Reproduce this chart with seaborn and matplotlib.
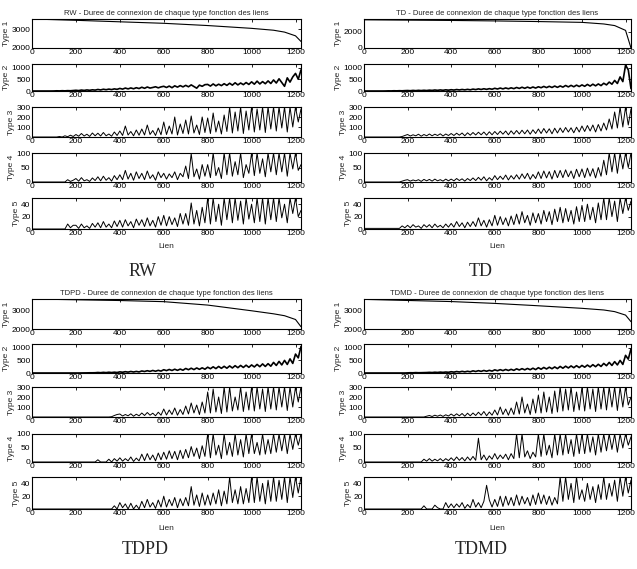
import numpy as np
import pandas as pd
import matplotlib
matplotlib.use("Agg")
import matplotlib.pyplot as plt
import seaborn as sns

# ---------------- data ----------------
methods = ["RW", "TD", "TDPD", "TDMD"]
type_names = ["Type 1", "Type 2", "Type 3", "Type 4", "Type 5"]
lien_step = 12.5  # spacing (in link index) of the sampled values

type1_x = [0, 200, 400, 600, 800, 1000, 1100, 1150, 1200, 1225]
rw_t1 = [3550, 3480, 3400, 3320, 3200, 3050, 2950, 2850, 2650, 2350]
td_t1 = [3520, 3480, 3440, 3380, 3300, 3200, 3000, 2800, 2200, 0]
tdpd_t1 = [3580, 3540, 3500, 3440, 3260, 2960, 2800, 2700, 2500, 2120]
tdmd_t1 = [3620, 3560, 3500, 3400, 3270, 3130, 3040, 2950, 2760, 2400]

rw_t2 = [0, 0, 0, 0, 0, 0, 0, 0, 2, 8, 4, 12, 6, 15, 10, 20,
         30, 18, 40, 25, 45, 30, 50, 38, 65, 45, 75, 55, 80, 60, 90, 70,
         110, 80, 125, 90, 130, 95, 140, 105, 160, 115, 170, 125, 150, 180, 135, 175,
         200, 150, 210, 140, 220, 165, 230, 175, 240, 180, 260, 190, 120, 250, 200, 270,
         280, 210, 300, 220, 290, 230, 310, 240, 330, 250, 350, 260, 340, 270, 360, 280,
         390, 290, 420, 300, 400, 310, 430, 320, 470, 340, 520, 360, 200, 560, 380, 600,
         750, 500, 900]
rw_t3 = [0, 0, 0, 0, 0, 0, 0, 0, 0, 0, 5, 0, 12, 3, 18, 5,
         25, 8, 35, 10, 28, 6, 40, 12, 38, 10, 45, 12, 30, 8, 50, 15,
         60, 15, 110, 20, 55, 12, 70, 18, 80, 20, 120, 25, 65, 15, 90, 22,
         150, 25, 110, 30, 200, 20, 130, 35, 170, 30, 210, 40, 120, 25, 200, 45,
         190, 35, 240, 50, 160, 30, 220, 55, 300, 40, 250, 60, 300, 35, 260, 70,
         300, 50, 280, 70, 300, 45, 300, 80, 300, 60, 300, 90, 300, 50, 300, 100,
         300, 150, 280]
rw_t4 = [0, 0, 0, 0, 0, 0, 0, 0, 0, 0, 0, 0, 0, 8, 2, 6,
         12, 3, 15, 4, 8, 2, 14, 5, 18, 4, 20, 6, 15, 3, 22, 8,
         25, 8, 40, 10, 30, 6, 35, 12, 30, 8, 38, 12, 25, 6, 35, 15,
         30, 10, 28, 15, 35, 8, 30, 18, 55, 12, 98, 18, 45, 10, 60, 20,
         60, 15, 100, 22, 50, 12, 100, 25, 100, 20, 70, 25, 100, 15, 60, 30,
         100, 22, 100, 30, 80, 18, 100, 35, 100, 25, 100, 35, 100, 20, 100, 45,
         100, 40, 60]
rw_t5 = [0, 0, 0, 0, 0, 0, 0, 0, 0, 0, 0, 0, 0, 8, 2, 6,
         6, 1, 8, 2, 5, 1, 9, 3, 10, 2, 12, 3, 8, 2, 13, 4,
         14, 3, 15, 5, 12, 2, 16, 6, 15, 4, 18, 5, 14, 3, 20, 6,
         22, 5, 20, 7, 18, 4, 25, 8, 25, 6, 42, 8, 30, 5, 35, 10,
         50, 8, 50, 12, 40, 6, 50, 15, 50, 10, 50, 14, 45, 8, 50, 16,
         40, 10, 50, 12, 50, 8, 50, 15, 50, 12, 50, 18, 40, 10, 50, 25,
         50, 20, 30]

td_t2 = [0, 0, 0, 0, 0, 0, 0, 0, 2, 6, 4, 10, 6, 12, 8, 15,
         20, 12, 25, 15, 28, 18, 30, 20, 35, 25, 42, 28, 45, 30, 50, 35,
         55, 40, 62, 45, 65, 48, 70, 50, 80, 60, 90, 65, 95, 70, 100, 75,
         115, 85, 125, 90, 130, 95, 135, 100, 150, 110, 160, 115, 165, 120, 170, 125,
         180, 140, 195, 145, 200, 150, 210, 155, 215, 165, 235, 175, 240, 180, 250, 190,
         260, 200, 280, 210, 290, 220, 300, 230, 330, 260, 380, 290, 450, 320, 600, 400,
         1100, 900, 100]
td_t3 = [0, 0, 0, 0, 0, 0, 0, 0, 0, 0, 0, 0, 0, 0, 5, 15,
         25, 10, 22, 12, 28, 8, 25, 12, 30, 12, 28, 15, 32, 10, 30, 15,
         35, 15, 38, 18, 40, 12, 42, 18, 45, 20, 48, 22, 50, 18, 52, 22,
         55, 25, 58, 28, 60, 22, 62, 28, 65, 30, 68, 32, 70, 28, 72, 35,
         80, 35, 85, 40, 82, 32, 88, 40, 90, 45, 95, 50, 92, 42, 98, 50,
         110, 55, 115, 60, 120, 50, 125, 60, 140, 70, 180, 80, 250, 90, 300, 100,
         300, 120, 280]
td_t4 = [0, 0, 0, 0, 0, 0, 0, 0, 0, 0, 0, 0, 0, 0, 3, 6,
         8, 3, 7, 4, 8, 2, 9, 4, 9, 3, 10, 4, 8, 3, 10, 4,
         10, 4, 12, 5, 11, 3, 12, 5, 14, 5, 16, 6, 18, 4, 15, 6,
         22, 8, 20, 9, 24, 7, 22, 10, 25, 10, 28, 12, 30, 9, 26, 12,
         35, 12, 38, 14, 36, 10, 40, 15, 40, 15, 42, 18, 38, 12, 44, 18,
         45, 15, 48, 20, 46, 14, 50, 20, 75, 25, 100, 35, 100, 30, 100, 45,
         100, 50, 100]
td_t5 = [1, 1, 1, 1, 1, 1, 1, 1, 1, 1, 1, 1, 1, 1, 5, 2,
         6, 2, 7, 3, 5, 1, 7, 3, 7, 2, 8, 3, 6, 2, 8, 3,
         9, 3, 12, 4, 10, 2, 11, 4, 12, 4, 18, 5, 14, 3, 15, 5,
         22, 6, 20, 7, 18, 5, 21, 7, 24, 8, 28, 10, 22, 6, 26, 10,
         25, 8, 30, 12, 28, 7, 32, 12, 35, 10, 33, 12, 30, 8, 36, 12,
         38, 12, 40, 15, 35, 10, 42, 15, 50, 15, 50, 20, 45, 12, 50, 25,
         50, 30, 45]

tdpd_t2 = [0, 0, 0, 0, 0, 0, 0, 0, 0, 0, 0, 0, 0, 0, 0, 0,
           0, 0, 2, 4, 5, 8, 8, 10, 20, 12, 25, 15, 30, 18, 32, 20,
           45, 30, 52, 35, 60, 40, 62, 42, 80, 60, 90, 65, 100, 70, 105, 75,
           130, 95, 140, 100, 150, 105, 155, 110, 180, 130, 190, 135, 200, 145, 205, 150,
           230, 170, 245, 175, 260, 185, 265, 190, 280, 200, 290, 210, 300, 220, 310, 225,
           320, 240, 340, 250, 360, 260, 370, 270, 420, 300, 460, 320, 500, 340, 560, 380,
           750, 600, 1050]
tdpd_t3 = [0, 0, 0, 0, 0, 0, 0, 0, 0, 0, 0, 0, 0, 0, 0, 0,
           0, 0, 0, 0, 0, 0, 0, 0, 0, 0, 0, 0, 0, 3, 15, 25,
           30, 10, 25, 12, 32, 8, 28, 12, 40, 15, 45, 18, 38, 12, 48, 18,
           80, 20, 70, 25, 90, 18, 75, 25, 110, 30, 140, 40, 120, 25, 150, 40,
           250, 40, 280, 50, 200, 35, 300, 50, 300, 60, 200, 70, 300, 55, 250, 70,
           300, 60, 300, 80, 280, 55, 300, 80, 300, 70, 300, 100, 300, 65, 300, 100,
           300, 150, 300]
tdpd_t4 = [0, 0, 0, 0, 0, 0, 0, 0, 0, 0, 0, 0, 0, 0, 0, 0,
           0, 0, 0, 0, 0, 0, 0, 0, 8, 0, 0, 0, 10, 0, 12, 3,
           15, 3, 12, 4, 18, 2, 14, 4, 28, 5, 30, 8, 25, 4, 32, 8,
           35, 10, 40, 12, 38, 8, 42, 12, 45, 15, 55, 20, 50, 12, 58, 20,
           100, 15, 100, 25, 60, 12, 100, 25, 70, 20, 100, 25, 80, 18, 100, 30,
           100, 30, 70, 25, 100, 28, 80, 30, 100, 35, 100, 40, 100, 30, 100, 45,
           100, 60, 100]
tdpd_t5 = [0, 0, 0, 0, 0, 0, 0, 0, 0, 0, 0, 0, 0, 0, 0, 0,
           0, 0, 0, 0, 0, 0, 0, 0, 0, 0, 0, 0, 0, 0, 5, 0,
           10, 2, 8, 0, 9, 0, 6, 0, 12, 2, 15, 3, 10, 1, 14, 3,
           20, 3, 15, 5, 18, 2, 16, 5, 18, 5, 35, 6, 22, 4, 25, 6,
           22, 6, 25, 8, 30, 5, 28, 8, 50, 10, 30, 8, 35, 8, 32, 10,
           50, 10, 50, 12, 40, 8, 45, 12, 50, 12, 45, 15, 50, 10, 50, 18,
           50, 25, 50]

tdmd_t2 = [0, 0, 0, 0, 0, 0, 0, 0, 0, 0, 0, 0, 0, 0, 0, 0,
           5, 10, 8, 15, 10, 12, 15, 18, 25, 18, 30, 22, 35, 25, 38, 28,
           50, 35, 58, 40, 65, 45, 68, 48, 85, 60, 92, 65, 100, 70, 105, 75,
           125, 90, 132, 95, 140, 100, 145, 105, 165, 120, 172, 125, 180, 130, 190, 135,
           210, 150, 220, 160, 230, 170, 240, 175, 260, 190, 270, 200, 280, 210, 290, 215,
           300, 230, 315, 240, 330, 250, 345, 260, 380, 290, 420, 300, 450, 320, 500, 340,
           700, 550, 950]
tdmd_t3 = [0, 0, 0, 0, 0, 0, 0, 0, 0, 0, 0, 0, 0, 0, 0, 0,
           0, 0, 0, 0, 0, 0, 0, 8, 15, 5, 18, 8, 20, 6, 22, 10,
           30, 10, 32, 12, 35, 8, 38, 12, 40, 15, 48, 18, 55, 12, 50, 18,
           70, 20, 100, 25, 80, 18, 90, 25, 150, 30, 200, 40, 130, 25, 180, 40,
           220, 40, 250, 50, 200, 35, 260, 50, 300, 60, 280, 70, 300, 55, 250, 70,
           300, 60, 300, 80, 280, 55, 300, 80, 300, 70, 300, 100, 300, 65, 300, 100,
           300, 120, 200]
tdmd_t4 = [0, 0, 0, 0, 0, 0, 0, 0, 0, 0, 0, 0, 0, 0, 0, 0,
           0, 0, 0, 0, 0, 0, 10, 3, 12, 3, 10, 4, 12, 3, 12, 5,
           15, 5, 18, 6, 16, 4, 18, 6, 20, 6, 85, 8, 25, 6, 22, 10,
           30, 10, 25, 12, 28, 8, 30, 12, 100, 15, 100, 18, 40, 12, 35, 18,
           100, 20, 100, 25, 60, 15, 100, 25, 100, 25, 100, 30, 80, 20, 100, 30,
           100, 30, 100, 35, 90, 25, 100, 35, 100, 40, 100, 45, 100, 35, 100, 50,
           100, 60, 90]
tdmd_t5 = [0, 0, 0, 0, 0, 0, 0, 0, 0, 0, 0, 0, 0, 0, 0, 0,
           0, 0, 0, 0, 0, 0, 5, 0, 0, 0, 6, 2, 0, 0, 10, 2,
           8, 2, 8, 3, 10, 1, 7, 2, 15, 3, 10, 2, 12, 37, 14, 3,
           15, 4, 20, 4, 20, 6, 18, 5, 22, 6, 20, 8, 18, 5, 22, 7,
           25, 8, 22, 7, 20, 6, 18, 8, 50, 12, 50, 15, 40, 10, 50, 15,
           30, 12, 40, 15, 35, 10, 38, 15, 50, 15, 40, 20, 45, 12, 50, 20,
           50, 25, 45]

series = {
    "RW": [rw_t1, rw_t2, rw_t3, rw_t4, rw_t5],
    "TD": [td_t1, td_t2, td_t3, td_t4, td_t5],
    "TDPD": [tdpd_t1, tdpd_t2, tdpd_t3, tdpd_t4, tdpd_t5],
    "TDMD": [tdmd_t1, tdmd_t2, tdmd_t3, tdmd_t4, tdmd_t5],
}
type1_ylim = {"RW": (2000, 3550), "TD": (0, 3620), "TDPD": (2000, 3580), "TDMD": (2000, 3640)}
type1_ticks = {"RW": [2000, 3000], "TD": [0, 2000], "TDPD": [2000, 3000], "TDMD": [2000, 3000]}
other_ylim = [(0, 1150), (0, 300), (0, 100), (0, 50)]
other_ticks = [[0, 500, 1000], [0, 100, 200, 300], [0, 50, 100], [0, 20, 40]]
x_ticks = [0, 200, 400, 600, 800, 1000, 1200]

# ---------------- style ----------------
sns.set_theme(style="white")
plt.rcParams["font.family"] = ["Liberation Sans", "DejaVu Sans"]
plt.rcParams["axes.edgecolor"] = "black"
plt.rcParams["axes.linewidth"] = 0.8

W, H = 637, 569
fig = plt.figure(figsize=(W / 100, H / 100), dpi=100)
fig.patch.set_facecolor("white")

panel_x = {"RW": (32, 301), "TD": (364, 631), "TDPD": (32, 301), "TDMD": (364, 631)}
rows_top = [(19, 48), (64, 91), (107, 137), (153, 182), (198, 229)]
rows_bot = [(299, 329), (344, 373), (387, 417), (434, 462), (477, 509)]
panel_rows = {"RW": rows_top, "TD": rows_top, "TDPD": rows_bot, "TDMD": rows_bot}
lien_y = {"RW": 247, "TD": 247, "TDPD": 528, "TDMD": 528}
label_pos = {"RW": (143, 271), "TD": (481, 271), "TDPD": (145, 550), "TDMD": (481, 550)}

for m in methods:
    x0, x1 = panel_x[m]
    for k, (t, b) in enumerate(panel_rows[m]):
        ax = fig.add_axes([x0 / W, 1 - b / H, (x1 - x0) / W, (b - t) / H])
        if k == 0:
            df = pd.DataFrame({"Lien": type1_x, "val": series[m][0]})
            ax.set_ylim(*type1_ylim[m])
            ax.set_yticks(type1_ticks[m])
            lw = 0.8
        else:
            vals = series[m][k]
            df = pd.DataFrame({"Lien": np.arange(len(vals)) * lien_step, "val": vals})
            ax.set_ylim(*other_ylim[k - 1])
            ax.set_yticks(other_ticks[k - 1])
            lw = 1.2 if k == 1 else 0.7
        sns.lineplot(data=df, x="Lien", y="val", ax=ax, color="black",
                     linewidth=lw, estimator=None)
        ax.set_xlim(0, 1225)
        ax.set_xticks(x_ticks)
        ax.tick_params(direction="in", top=True, right=True, length=2, width=0.6,
                       labelsize=6, pad=1, colors="black")
        ax.set_xlabel("")
        ax.set_ylabel(type_names[k], fontsize=6, labelpad=1)
        for s in ax.spines.values():
            s.set_visible(True)
            s.set_color("black")
            s.set_linewidth(0.8)
        if k == 0:
            ax.set_title(f"{m} - Duree de connexion de chaque type fonction des liens",
                         fontsize=5.5, pad=3)
    fig.text((x0 + x1) / 2 / W, 1 - lien_y[m] / H, "Lien", ha="center", va="center",
             fontsize=6)
    lx, ly = label_pos[m]
    fig.text(lx / W, 1 - ly / H, m, ha="center", va="center", fontsize=13,
             family=["Liberation Serif", "DejaVu Serif"])

fig.savefig("out.png", dpi=100, facecolor="white")
